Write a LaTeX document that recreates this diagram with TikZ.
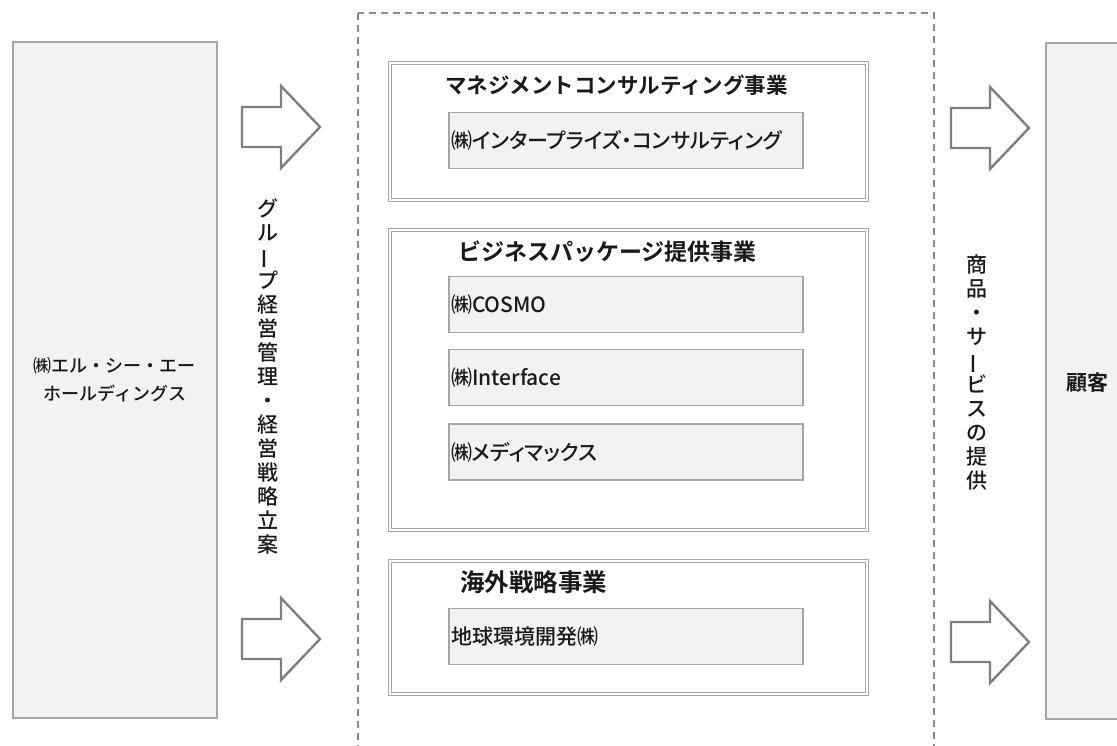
\documentclass[tikz,border=0pt]{standalone}
\usepackage{graphicx}
\usepackage{fontspec}
\setmainfont{Noto Sans CJK JP Medium}[BoldFont={Noto Sans CJK JP Bold}]
\usepackage{tikz}
\usetikzlibrary{calc}
\definecolor{boxfill}{HTML}{F2F2F2}
\definecolor{boxline}{HTML}{A6A6A6}
\definecolor{arrline}{HTML}{7F7F7F}
\definecolor{dashline}{HTML}{8C8C8C}
\definecolor{ink}{HTML}{1A1A1A}
\tikzset{
  sidebox/.style={draw=boxline, fill=boxfill, line width=1.6pt, minimum width=204pt, minimum height=676pt, inner sep=0pt, align=center, text=ink, font=\fontsize{18}{28}\selectfont},
  groupbox/.style={draw=boxline, double=white, double distance=1.5pt, line width=1.3pt, minimum width=477pt, inner sep=0pt},
  firmbox/.style={draw=boxline, fill=boxfill, line width=1.6pt, minimum height=56pt, inner xsep=2pt, inner ysep=0pt, text width=350pt, align=left, text=ink, font=\fontsize{21}{24}\selectfont\addfontfeatures{RawFeature=+palt}},
  grouptitle/.style={anchor=west, inner sep=0pt, text=ink, font=\fontsize{#1}{26}\selectfont\bfseries},
  grouptitle/.default=21.5,
  bigarrow/.style={draw=arrline, fill=white, line width=2.4pt, line join=miter},
  dashframe/.style={draw=dashline, dash pattern=on 7pt off 5pt, line width=1.8pt},
  vlabel/.style={inner sep=0pt, align=center, text=ink, font=\fontsize{21}{24}\selectfont},
}
\newcommand{\vbar}{\rotatebox[origin=c]{90}{ー}}

\begin{document}
\begin{tikzpicture}[x=1pt, y=-1pt]
  \useasboundingbox (0,0) rectangle (1117,745);
  \clip (0,0) rectangle (1117,745);

  % holding company and customers
  \node[sidebox, anchor=north west] (hold) at (12,41) {㈱エル・シー・エー\\ホールディングス};
  \node[sidebox, anchor=north west] (custbox) at (1045,42) {};
  \node[vlabel, font=\fontsize{21}{24}\selectfont\bfseries] (cust) at (1087,383) {顧客};

  % group frame
  \draw[dashframe] (358,13) rectangle (934,760);

  % block arrows
  \foreach \ax/\ay in {242/127, 242/639, 951/128, 951/642}
    \draw[bigarrow] (\ax,\ay-20) -- ++(39,0) -- ++(0,-21) -- (\ax+78,\ay)
      -- (\ax+39,\ay+41) -- ++(0,-21) -- (\ax,\ay+20) -- cycle;

  \node[vlabel] (plan) at (268,376) {グ\\ル\\\vbar\\プ\\経\\営\\管\\理\\・\\経\\営\\戦\\略\\立\\案};
  \node[vlabel] (supply) at (977,373) {商\\品\\・\\サ\\\vbar\\ビ\\ス\\の\\提\\供};

  % business groups
  \node[groupbox, minimum height=137pt] (mc) at (628.5,131.5) {};
  \node[grouptitle] (mct) at (445,85) {マネジメントコンサルティング事業};
  \node[firmbox] (ec) at (626,140.5) {㈱インタープライズ・コンサルティング};

  \node[groupbox, minimum height=300pt] (bp) at (628.5,380) {};
  \node[grouptitle=23] (bpt) at (458,252) {ビジネスパッケージ提供事業};
  \node[firmbox] (cosmo) at (626,304.5) {㈱COSMO};
  \node[firmbox] (intf) at (626,377.5) {㈱Interface};
  \node[firmbox] (medi) at (626,452) {㈱メディマックス};

  \node[groupbox, minimum height=133pt] (os) at (628.5,627.5) {};
  \node[grouptitle=24.5] (ost) at (460,582) {海外戦略事業};
  \node[firmbox] (gee) at (626,636.5) {地球環境開発㈱};
\end{tikzpicture}
\end{document}
